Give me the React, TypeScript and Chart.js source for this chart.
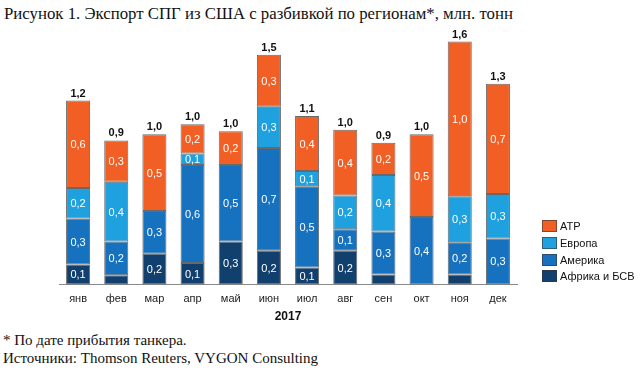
import React, { useEffect, useRef } from "react";
import { Chart, registerables } from "chart.js";

Chart.register(...registerables);

const months = ["янв", "фев", "мар", "апр", "май", "июн", "июл", "авг", "сен", "окт", "ноя", "дек"];
const africa = [0.13, 0.06, 0.2, 0.14, 0.28, 0.22, 0.11, 0.22, 0.065, 0, 0.065, 0];
const america = [0.3, 0.22, 0.28, 0.64, 0.5, 0.67, 0.53, 0.14, 0.28, 0.44, 0.21, 0.3];
const europe = [0.2, 0.39, 0, 0.075, 0, 0.27, 0.1, 0.22, 0.37, 0, 0.3, 0.29];
const atr = [0.57, 0.27, 0.5, 0.19, 0.22, 0.34, 0.36, 0.43, 0.21, 0.54, 1.01, 0.72];

const seriesNames = ["Африка и БСВ", "Америка", "Европа", "АТР"];
const seriesValues = [africa, america, europe, atr];
const seriesColors = ["#11406f", "#1671be", "#1ea1de", "#f15f24"];

const xTitle = "2017";
const titleText = "Рисунок 1. Экспорт СПГ из США с разбивкой по регионам*, млн. тонн";
const footnote = "* По дате прибытия танкера.";
const sources = "Источники: Thomson Reuters, VYGON Consulting";

const SANS = "'Liberation Sans', Arial, sans-serif";
const SERIF = "'Liberation Serif', 'Times New Roman', serif";

const fmt = (v: number) => v.toFixed(1).replace(".", ",");

const labelPlugin = {
  id: "barLabels",
  afterDatasetsDraw(chart: any) {
    const ctx = chart.ctx;
    ctx.save();
    ctx.textAlign = "center";
    // segment labels
    ctx.font = `11px ${SANS}`;
    ctx.fillStyle = "#ffffff";
    ctx.textBaseline = "middle";
    chart.data.datasets.forEach((ds: any, di: number) => {
      const meta = chart.getDatasetMeta(di);
      meta.data.forEach((el: any, i: number) => {
        const v = ds.data[i] as number;
        if (v < 0.07) return;
        const p = el.getProps(["x", "y", "base"], true);
        ctx.fillText(fmt(v), p.x, (p.y + p.base) / 2 + 1);
      });
    });
    // totals
    ctx.font = `bold 11px ${SANS}`;
    ctx.fillStyle = "#111111";
    ctx.textBaseline = "alphabetic";
    const yScale = chart.scales.y;
    const meta0 = chart.getDatasetMeta(0);
    months.forEach((_, i) => {
      const total = seriesValues.reduce((s, arr) => s + arr[i], 0);
      const x = meta0.data[i].getProps(["x"], true).x;
      const y = yScale.getPixelForValue(total);
      ctx.fillText(fmt(total), x, y - 4);
    });
    ctx.restore();
  },
};

export default function App() {
  const ref = useRef<HTMLCanvasElement | null>(null);

  useEffect(() => {
    if (!ref.current) return;
    const chart = new Chart(ref.current, {
      type: "bar",
      data: {
        labels: months,
        datasets: seriesNames.map((name, k) => ({
          label: name,
          data: seriesValues[k],
          backgroundColor: seriesColors[k],
          borderColor: "rgba(55,55,55,0.75)",
          borderWidth: 1,
          borderSkipped: false,
          categoryPercentage: 1,
          barPercentage: 0.63,
        })),
      },
      options: {
        responsive: false,
        animation: false,
        layout: { padding: { left: 59, right: 123, top: 24, bottom: 0 } },
        plugins: {
          legend: { display: false },
          tooltip: { enabled: false },
        },
        scales: {
          x: {
            stacked: true,
            grid: { display: false, drawTicks: false },
            border: { display: true, color: "#8a8a8a", width: 1 },
            ticks: {
              padding: 8,
              color: "#222",
              font: { family: SANS, size: 11 },
            },
            title: {
              display: true,
              text: xTitle,
              color: "#111",
              font: { family: SANS, size: 12, weight: "bold" },
              padding: { top: -4, bottom: 0 },
            },
          },
          y: { stacked: true, display: false, min: 0, max: 1.7 },
        },
      },
      plugins: [labelPlugin],
    });
    return () => chart.destroy();
  }, []);

  const legendItems = seriesNames.map((n, k) => ({ n, c: seriesColors[k] })).reverse();

  return (
    <div style={{ position: "fixed", left: 0, top: 0, width: 640, height: 370, background: "#fff", overflow: "hidden" }}>
      <div style={{ position: "absolute", left: 4, top: 4, fontFamily: SERIF, fontSize: 16.8, color: "#111", whiteSpace: "nowrap" }}>
        {titleText}
      </div>
      <canvas ref={ref} width={640} height={324} style={{ position: "absolute", left: 0, top: 0, width: 640, height: 324 }} />
      <div style={{ position: "absolute", left: 542, top: 218 }}>
        {legendItems.map((it) => (
          <div key={it.n} style={{ display: "flex", alignItems: "center", height: 16.7, fontFamily: SANS, fontSize: 11, color: "#111", whiteSpace: "nowrap" }}>
            <span style={{ display: "inline-block", width: 15, height: 12, background: it.c, border: "1px solid rgba(55,55,55,0.6)", boxSizing: "border-box", marginRight: 3 }} />
            {it.n}
          </div>
        ))}
      </div>
      <div style={{ position: "absolute", left: 3, top: 331, fontFamily: SERIF, fontSize: 15, color: "#111", whiteSpace: "nowrap", lineHeight: "18px" }}>
        <div>{footnote}</div>
        <div>{sources}</div>
      </div>
    </div>
  );
}
